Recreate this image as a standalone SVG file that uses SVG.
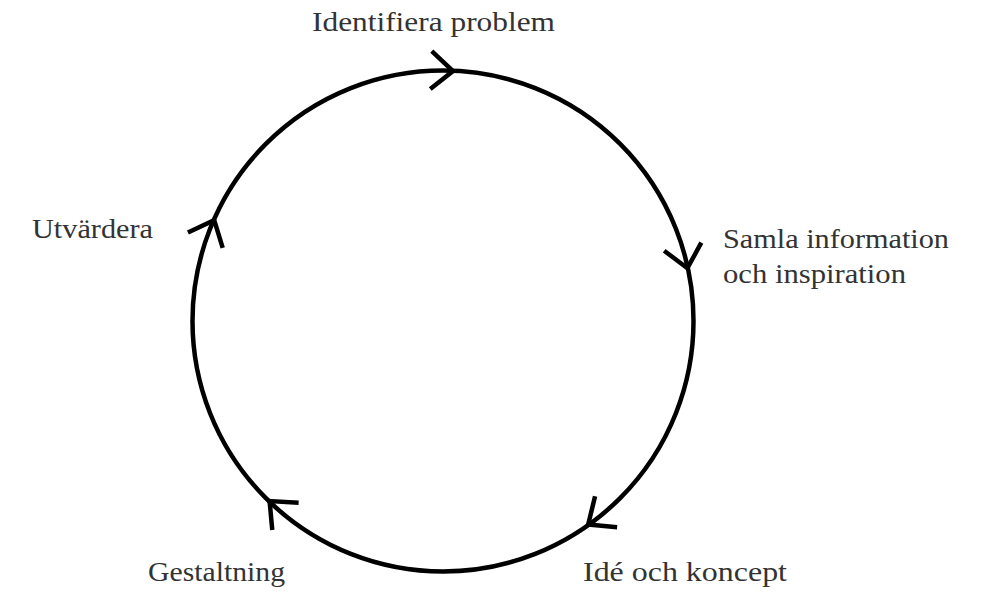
<svg xmlns="http://www.w3.org/2000/svg" xmlns:xlink="http://www.w3.org/1999/xlink" width="992" height="594" viewBox="0 0 992 594">
  <style>
    .lbl { font-family: "Liberation Serif", "DejaVu Serif", serif; font-size: 28px; fill: #333333; }
    .ring { fill: none; stroke: #000000; stroke-width: 4.5; }
    .chev { fill: none; stroke: #000000; stroke-width: 4.5; stroke-linejoin: miter; stroke-linecap: butt; }
  </style>
  <defs>
    <path id="chev" d="M-22,-19 L0,0 L-22,19"/>
  </defs>
  <rect width="992" height="594" fill="#ffffff"/>
  <g id="connectors">
    <circle class="ring" cx="443" cy="321" r="250.5"/>
    <use xlink:href="#chev" href="#chev" class="chev" transform="translate(453,71) rotate(2.3)"/>
    <use xlink:href="#chev" href="#chev" class="chev" transform="translate(687.4,268.2) rotate(77.8)"/>
    <use xlink:href="#chev" href="#chev" class="chev" transform="translate(588.2,524.5) rotate(144.5)"/>
    <use xlink:href="#chev" href="#chev" class="chev" transform="translate(269.6,501.1) rotate(223.9)"/>
    <use xlink:href="#chev" href="#chev" class="chev" transform="translate(214.2,220.1) rotate(293.8)"/>
  </g>
  <g id="node-identifiera">
    <text class="lbl" x="312" y="31" textLength="243" lengthAdjust="spacingAndGlyphs">Identifiera problem</text>
  </g>
  <g id="node-samla">
    <text class="lbl" x="723" y="248" textLength="226" lengthAdjust="spacingAndGlyphs">Samla information</text>
    <text class="lbl" x="723" y="283" textLength="183" lengthAdjust="spacingAndGlyphs">och inspiration</text>
  </g>
  <g id="node-ide">
    <text class="lbl" x="583" y="581" textLength="204" lengthAdjust="spacingAndGlyphs">Idé och koncept</text>
  </g>
  <g id="node-gestaltning">
    <text class="lbl" x="148" y="581" textLength="137" lengthAdjust="spacingAndGlyphs">Gestaltning</text>
  </g>
  <g id="node-utvardera">
    <text class="lbl" x="32" y="238" textLength="121" lengthAdjust="spacingAndGlyphs">Utvärdera</text>
  </g>
</svg>
